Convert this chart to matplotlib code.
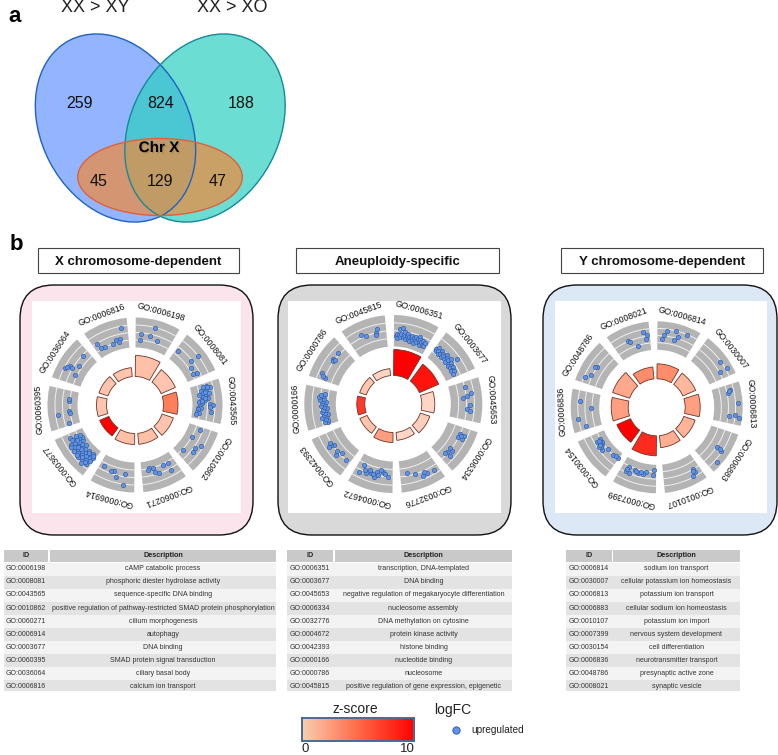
import numpy as np
import matplotlib
matplotlib.use("Agg")
import matplotlib.pyplot as plt
from matplotlib.patches import Ellipse, FancyBboxPatch, Rectangle
from matplotlib.colors import LinearSegmentedColormap, Normalize
import matplotlib.patheffects as pe

plt.rcParams['font.family'] = ['Liberation Sans', 'DejaVu Sans']

# ---------- data ----------
venn_titles = ["XX > XY", "XX > XO"]
venn_counts = [259, 824, 188, 45, 129, 47]

x_ids = ["GO:0006198","GO:0008081","GO:0043565","GO:0010862","GO:0060271",
         "GO:0006914","GO:0003677","GO:0060395","GO:0036064","GO:0006816"]
x_desc = ["cAMP catabolic process","phosphoric diester hydrolase activity","sequence-specific DNA binding",
          "positive regulation of pathway-restricted SMAD protein phosphorylation","cilium morphogenesis",
          "autophagy","DNA binding","SMAD protein signal transduction","ciliary basal body","calcium ion transport"]
x_z = [2.0, 1.8, 5.5, 1.8, 2.0, 2.0, 10.0, 1.8, 1.8, 1.8]
x_count = [21, 15.5, 14.5, 12, 11, 11, 10, 10, 9.5, 9]
x_logfc = [
 [(.47,3.0),(.15,1.9),(.39,1.7),(.13,1.05),(.62,1.3)],
 [(.07,1.6),(.53,3.0),(.52,1.8),(.67,1.2),(.87,1.6),(.85,1.15)],
 [(.08,2.2),(.10,1.7),(.14,2.6),(.17,1.3),(.20,2.0),(.24,1.5),(.27,2.3),(.30,1.0),(.33,1.8),(.36,1.4),(.40,2.1),
  (.43,1.1),(.46,1.7),(.50,0.9),(.52,1.3),(.55,2.4),(.58,2.8),(.60,1.0),(.63,2.4),(.66,0.8),(.68,1.2),(.72,0.7),
  (.75,2.5),(.80,0.6),(.83,1.0),(.88,0.5),(.12,2.2),(.22,1.8),(.38,1.7),(.48,1.3)],
 [(.10,1.6),(.36,1.05),(.44,2.7),(.57,2.1),(.69,2.3),(.83,1.1)],
 [(.20,1.2),(.36,1.15),(.22,2.3),(.53,2.0),(.66,1.1),(.76,1.0),(.63,1.6),(.81,1.15)],
 [(.26,3.1),(.27,1.6),(.56,1.6),(.65,1.65),(.47,2.2),(.87,1.45)],
 [(.07,1.3),(.08,1.9),(.11,2.5),(.13,1.0),(.15,1.6),(.18,2.1),(.20,2.9),(.22,1.3),(.25,1.8),(.27,2.4),(.30,1.0),
  (.33,1.5),(.35,2.0),(.37,2.6),(.40,1.2),(.43,1.7),(.45,2.2),(.48,.8),(.50,1.4),(.52,1.9),(.55,2.5),(.58,1.1),
  (.60,1.6),(.63,2.1),(.65,.7),(.68,1.3),(.70,1.8),(.72,2.4),(.75,.5),(.77,1.0),(.80,1.5),(.83,.7),(.85,1.2),(.88,2.0),
  (.10,1.2),(.16,2.4),(.24,1.2),(.31,2.2),(.42,2.5),(.47,1.6),(.57,1.7),(.67,2.5),(.74,1.4),(.82,1.9)],
 [(.70,1.1),(.40,1.2),(.36,1.05),(.33,2.65),(.09,1.5),(.75,1.2)],
 [(.83,1.9),(.40,2.45),(.32,2.9),(.40,2.1),(.55,1.5),(.27,1.35),(.36,2.7)],
 [(.83,2.8),(.76,1.4),(.63,1.35),(.53,1.0),(.28,1.0),(.16,1.1),(.13,1.9),(.70,1.0)],
]

a_ids = ["GO:0006351","GO:0003677","GO:0045653","GO:0006334","GO:0032776",
         "GO:0004672","GO:0042393","GO:0000166","GO:0000786","GO:0045815"]
a_desc = ["transcription, DNA-templated","DNA binding","negative regulation of megakaryocyte differentiation",
          "nucleosome assembly","DNA methylation on cytosine","protein kinase activity","histone binding",
          "nucleotide binding","nucleosome","positive regulation of gene expression, epigenetic"]
a_z = [10.0, 9.3, 0.9, 1.3, 0.9, 3.8, 1.8, 8.0, 1.7, 1.0]
a_count = [26, 21, 13, 10, 8, 10, 8, 8, 7, 7]
a_logfc = [
 [(.05,1.3),(.08,1.6),(.10,1.1),(.13,1.5),(.15,2.2),(.17,1.2),(.20,1.7),(.22,2.4),(.25,1.3),(.28,1.6),(.30,2.0),
  (.33,1.1),(.35,1.5),(.38,1.8),(.40,1.2),(.43,1.5),(.45,1.0),(.48,1.4),(.50,1.7),(.53,1.2),(.55,1.5),(.58,.9),
  (.60,1.3),(.62,1.7),(.65,1.1),(.68,1.5),(.70,1.9),(.73,1.2),(.75,1.5),(.78,.9),(.80,1.3),(.83,1.6),(.85,1.1),
  (.88,.9),(.90,1.4)],
 [(.05,1.6),(.08,1.3),(.10,1.9),(.13,1.5),(.17,1.2),(.20,1.8),(.23,1.4),(.27,1.7),(.30,1.2),(.33,1.5),(.37,1.9),
  (.40,1.3),(.43,1.6),(.47,1.2),(.50,1.6),(.53,2.0),(.57,1.3),(.60,1.7),(.63,1.2),(.67,1.5),(.70,1.2),(.73,1.6),
  (.77,1.3),(.80,1.1),(.83,1.5),(.88,1.2),(.62,2.6)],
 [(.15,2.1),(.32,2.6),(.37,2.15),(.43,1.6),(.60,2.5),(.71,2.1),(.75,2.45)],
 [(.19,2.0),(.20,2.5),(.29,2.0),(.29,2.45),(.67,2.2),(.65,1.85),(.77,1.8),(.83,1.7),(.80,2.5),(.24,2.2)],
 [(.13,2.5),(.32,2.45),(.43,2.65),(.60,2.0),(.81,1.6),(.38,2.2)],
 [(.13,2.0),(.28,1.4),(.44,1.6),(.47,2.3),(.34,1.2),(.59,1.9),(.70,2.1),(.83,1.3),(.87,2.35),(.20,1.7),(.38,1.9),
  (.52,2.0),(.64,1.6),(.77,1.8)],
 [(.13,2.0),(.33,1.75),(.40,2.4),(.62,1.9),(.68,2.15),(.73,2.2),(.45,2.0),(.66,2.5)],
 [(.08,1.3),(.10,1.7),(.13,1.2),(.17,1.5),(.20,1.9),(.23,1.3),(.27,1.6),(.30,1.1),(.33,1.5),(.37,1.8),(.40,1.3),
  (.43,1.6),(.47,1.1),(.50,1.5),(.53,1.9),(.57,1.4),(.60,1.7),(.63,1.3),(.67,1.6),(.70,2.0),(.73,1.5),(.77,2.2),
  (.80,1.7),(.83,2.0),(.85,1.4)],
 [(.82,2.25),(.60,2.3),(.57,2.1),(.16,2.6),(.07,2.0),(.11,2.3),(.62,2.0)],
 [(.77,2.5),(.73,2.0),(.72,1.7),(.35,2.4),(.46,2.0)],
]

y_ids = ["GO:0006814","GO:0030007","GO:0006813","GO:0006883","GO:0010107",
         "GO:0007399","GO:0030154","GO:0006836","GO:0048786","GO:0008021"]
y_desc = ["sodium ion transport","cellular potassium ion homeostasis","potassium ion transport",
          "cellular sodium ion homeostasis","potassium ion import","nervous system development",
          "cell differentiation","neurotransmitter transport","presynaptic active zone","synaptic vesicle"]
y_z = [4.8, 2.5, 3.8, 2.7, 3.0, 8.5, 10.0, 3.8, 3.3, 4.8]
y_count = [15, 14, 15, 12, 12, 20, 15, 17, 18, 12]
y_logfc = [
 [(.25,2.8),(.18,2.1),(.12,1.55),(.45,2.9),(.54,2.3),(.46,1.7),(.75,2.9)],
 [(.59,2.8),(.82,3.2),(.80,2.1)],
 [(.13,2.55),(.20,2.1),(.49,3.4),(.80,2.15),(.76,3.0),(.83,3.6),(.16,2.3)],
 [(.50,2.1),(.52,2.9),(.79,3.35),(.50,2.5)],
 [(.17,2.0),(.17,2.45),(.25,2.9),(.20,2.2)],
 [(.08,.75),(.08,1.45),(.30,1.1),(.38,1.5),(.52,1.55),(.63,1.2),(.80,1.15),(.75,2.0),(.83,1.9),(.44,1.3),(.57,1.35),
  (.85,1.5)],
 [(.03,.83),(.20,1.0),(.12,.9),(.43,.93),(.53,1.7),(.66,1.2),(.76,1.6),(.80,1.05),(.60,1.5),(.70,1.0),(.62,1.75),
  (.73,1.35),(.66,1.55),(.78,1.25)],
 [(.73,2.75),(.55,1.15),(.30,3.05),(.09,2.15)],
 [(.53,2.0),(.25,2.15),(.16,2.85),(.50,2.25)],
 [(.83,2.75),(.92,2.2),(.90,1.65),(.40,2.1),(.43,1.85),(.63,.93)],
]

panel_titles = ["X chromosome-dependent", "Aneuploidy-specific", "Y chromosome-dependent"]
zscore_ticks = [0, 10]

# ---------- layout ----------
W, H = 778, 755
fig = plt.figure(figsize=(W/100, H/100), dpi=100, facecolor="white")
bg = fig.add_axes([0, 0, 1, 1])
bg.set_xlim(0, W); bg.set_ylim(H, 0); bg.axis("off")

# ---------- panel a ----------
bg.text(15, 17, "a", fontsize=16, fontweight="bold", ha="center", va="center")
bg.text(16, 244, "b", fontsize=16, fontweight="bold", ha="center", va="center")
bg.text(95, 8, venn_titles[0], fontsize=13, ha="center", va="center", color="#222222")
bg.text(232, 8, venn_titles[1], fontsize=13, ha="center", va="center", color="#222222")
venn_shapes = [((115.5, 128), 198, 148, 62, "#6f9cff", 0.75, "#1f62c4"),
               ((205, 128), 198, 148, 118, "#2ccfc0", 0.70, "#14899a"),
               ((160, 177), 164.5, 77, 0, "#ee8b3c", 0.72, "#e0603a")]
for xy, w, h, ang, col, al, ec in venn_shapes:
    bg.add_patch(Ellipse(xy, w, h, angle=ang, fc=col, alpha=al, ec="none", zorder=2))
for xy, w, h, ang, col, al, ec in venn_shapes:
    bg.add_patch(Ellipse(xy, w, h, angle=ang, fc="none", ec=ec, lw=1.0, zorder=3))
venn_pos = [(80, 103), (161, 103), (241, 103), (99, 182), (160, 181), (218, 181)]
for (x, y), c in zip(venn_pos, venn_counts):
    bg.text(x, y, str(c), fontsize=11.5, ha="center", va="center", color="#111111", zorder=5)
bg.text(159, 148, "Chr X", fontsize=11, fontweight="bold", ha="center", va="center", zorder=5,
        path_effects=[pe.withSimplePatchShadow(offset=(1, -1), alpha=0.25, shadow_rgbFace="#555555")])

# ---------- panel b ----------
bar_cmap = LinearSegmentedColormap.from_list(
    "z", [(0, "#FFE8DE"), (0.2, "#FFC0A8"), (0.55, "#FF7F5A"), (1, "#FF0000")])
znorm = Normalize(0, 10)
bar_edge = "#6a3528"
dot_face, dot_edge = "#5f93e6", "#2f5597"
SW = np.deg2rad(30)
panels = [
    dict(ids=x_ids, desc=x_desc, z=x_z, count=x_count, lfc=x_logfc, title=panel_titles[0],
         c=(135, 405), R=87.5, box=(20, 285, 233, 250), white=(32, 301, 209, 212), fill="#FBE4EC",
         tbox=(38, 201), table=(4, 48, 50, 276)),
    dict(ids=a_ids, desc=a_desc, z=a_z, count=a_count, lfc=a_logfc, title=panel_titles[1],
         c=(393.3, 404), R=89, box=(278, 285, 233, 250), white=(288, 301, 213, 212), fill="#D9D9D9",
         tbox=(296, 203), table=(287, 333, 335, 512)),
    dict(ids=y_ids, desc=y_desc, z=y_z, count=y_count, lfc=y_logfc, title=panel_titles[2],
         c=(656.7, 407.3), R=86, box=(543, 285, 234, 250), white=(555, 301, 212, 212), fill="#DCE8F5",
         tbox=(561, 202), table=(566, 612, 613, 740)),
]
Rax = 110
for p in panels:
    x0, y0, w, h = p["box"]
    bg.add_patch(FancyBboxPatch((x0, y0), w, h, boxstyle="round,pad=0,rounding_size=34",
                                fc=p["fill"], ec="#111111", lw=1.0, zorder=1))
    wx, wy, ww, wh = p["white"]
    bg.add_patch(Rectangle((wx, wy), ww, wh, fc="white", ec="none", zorder=1.5))
    tx, tw = p["tbox"]
    bg.add_patch(Rectangle((tx, 248), tw, 25, fc="white", ec="#444444", lw=0.8, zorder=2))
    bg.text(tx + tw/2, 261, p["title"], fontsize=9.5, fontweight="bold", ha="center", va="center_baseline",
            color="#111111", zorder=3)

    cx, cy = p["c"]
    R = p["R"]
    ax = fig.add_axes([(cx-Rax)/W, 1-(cy+Rax)/H, 2*Rax/W, 2*Rax/H], polar=True)
    ax.set_theta_zero_location("N"); ax.set_theta_direction(-1)
    ax.axis("off")
    r_in, r_gray = 28.5, 57.5
    unit = (R - r_gray) / 4
    for k, gid in enumerate(p["ids"]):
        t0 = np.deg2rad(36*k + 0.5)
        tc = t0 + SW/2
        ax.bar(tc, R - r_gray, width=SW, bottom=r_gray, color="#B4B4B4", lw=0, zorder=2)
        arc = np.linspace(t0, t0 + SW, 25)
        for lev in (1, 2, 3):
            ax.plot(arc, np.full_like(arc, r_gray + lev*unit), color="#F0F0F0", lw=0.7, zorder=3)
        ax.bar(tc, p["count"][k], width=SW, bottom=r_in,
               color=bar_cmap(znorm(p["z"][k])), ec=bar_edge, lw=0.6, zorder=2)
        pts = np.array(p["lfc"][k])
        ax.scatter(t0 + pts[:, 0]*SW, r_gray + pts[:, 1]*unit, s=10, c=dot_face,
                   edgecolors=dot_edge, linewidths=0.4, zorder=4)
        ax.text(tc, R + 8.5, gid, rotation=-np.rad2deg(tc), rotation_mode="anchor", fontsize=6.2,
                ha="center", va="center", color="#111111", clip_on=False)
    ax.set_autoscale_on(False)
    ax.set_rorigin(0)
    ax.set_rlim(0, Rax)
    ax.set_thetalim(0, 2*np.pi)

    # table
    ix0, ix1, dx0, dx1 = p["table"]
    y = 549.5
    bg.add_patch(Rectangle((ix0, y), ix1-ix0, 12, fc="#C9C9C9", ec="none", zorder=2))
    bg.add_patch(Rectangle((dx0, y), dx1-dx0, 12, fc="#C9C9C9", ec="none", zorder=2))
    bg.text((ix0+ix1)/2, y+6, "ID", fontsize=5.2, fontweight="bold", ha="center", va="center", color="#222222", zorder=3)
    bg.text((dx0+dx1)/2, y+6, "Description", fontsize=5.2, fontweight="bold", ha="center", va="center", color="#222222", zorder=3)
    rh = 13.1
    top = 562.5
    for i, (gid, d) in enumerate(zip(p["ids"], p["desc"])):
        ry = top + i*rh
        hh = rh if i < 9 else 10.5
        bg.add_patch(Rectangle((ix0, ry), dx1-ix0, hh, fc="#F3F3F3" if i % 2 == 0 else "#E3E3E3", ec="none", zorder=2))
        bg.text((ix0+ix1)/2, ry+6.2, gid, fontsize=5.05, ha="center", va="center", color="#333333", zorder=3)
        bg.text((dx0+dx1)/2, ry+6.2, d, fontsize=5.05, ha="center", va="center", color="#333333", zorder=3)

# ---------- legend ----------
bg.text(355, 709, "z-score", fontsize=10, ha="center", va="center", color="#222222")
cb_cmap = LinearSegmentedColormap.from_list("cb", ["#F8CFB0", "#FF6A48", "#FF0000"])
cax = fig.add_axes([302/W, 1-741/H, 112/W, 23/H])
cax.imshow(np.linspace(zscore_ticks[0], zscore_ticks[1], 256)[None, :], aspect="auto", cmap=cb_cmap,
           extent=(zscore_ticks[0], zscore_ticks[1], 0, 1))
cax.set_xticks([]); cax.set_yticks([])
for s in cax.spines.values():
    s.set_color("#4a6a9a"); s.set_linewidth(1.4)
bg.text(305, 749, str(zscore_ticks[0]), fontsize=9.5, ha="center", va="center", color="#222222")
bg.text(407, 749, str(zscore_ticks[1]), fontsize=9.5, ha="center", va="center", color="#222222")
bg.text(453, 710, "logFC", fontsize=10, ha="center", va="center", color="#222222")
bg.scatter([456], [730], s=28, c=dot_face, edgecolors=dot_edge, linewidths=0.6)
bg.text(471, 730, "upregulated", fontsize=7.2, ha="left", va="center", color="#222222")

fig.savefig("out.png", dpi=100)
